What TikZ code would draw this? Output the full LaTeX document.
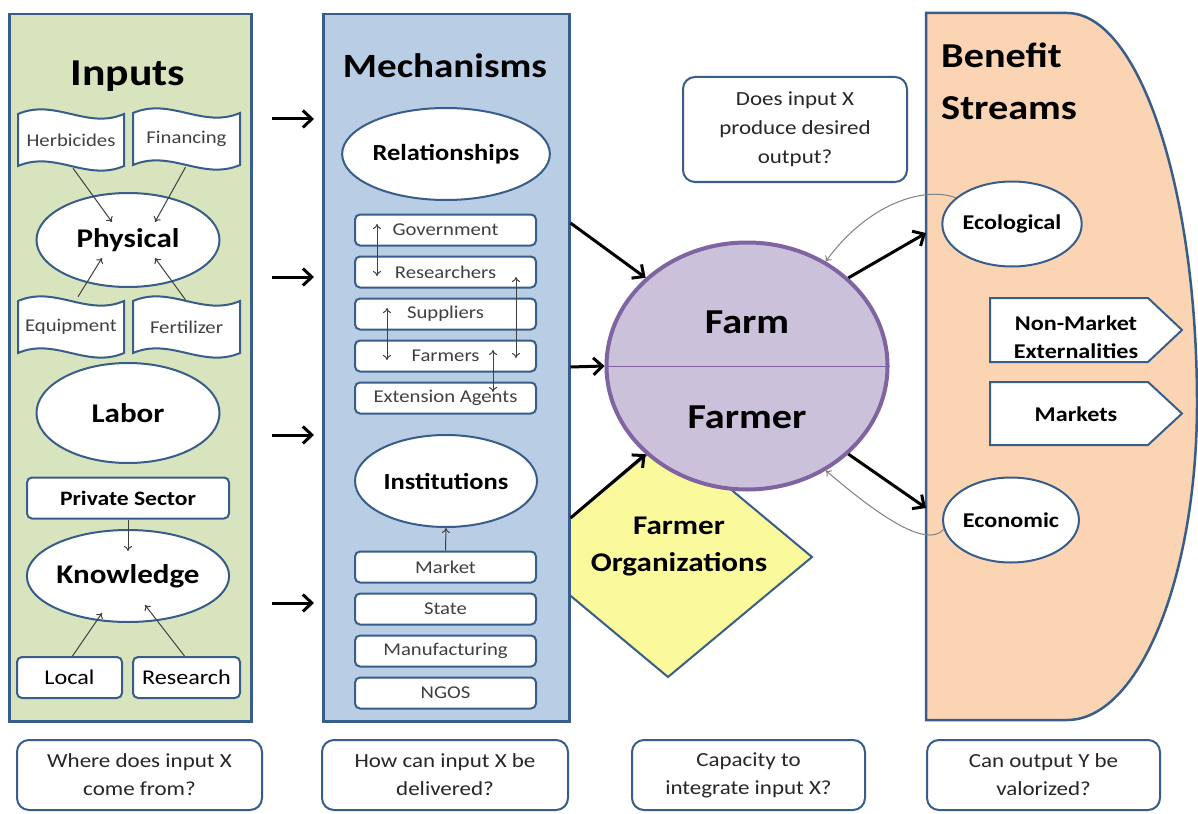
\documentclass[tikz,border=0pt]{standalone}
\usepackage{fontspec}
\setmainfont{Carlito}[FakeStretch=1.15]
\usetikzlibrary{shapes.geometric,arrows.meta,calc}
\definecolor{bord}{HTML}{385D8A}
\definecolor{grn}{HTML}{D7E4BD}
\definecolor{blu}{HTML}{B9CDE5}
\definecolor{peach}{HTML}{FBD4B4}
\definecolor{yel}{HTML}{FAFA9C}
\definecolor{lav}{HTML}{CCC1DA}
\definecolor{purp}{HTML}{8064A2}
\definecolor{arrgray}{HTML}{404040}
\definecolor{smallgray}{HTML}{404040}
\definecolor{qtext}{HTML}{262626}
\newcommand\myfs[2]{\fontsize{#1}{#2}\selectfont}
\newcommand\wavebox[6]{%
  \draw[draw=bord,line width=2pt,fill=white] (#2,#4) .. controls ({#2+0.35*(#3-#2)},{#4-16}) and ({#2+0.65*(#3-#2)},{#4+16}) .. (#3,#4) -- (#3,#5) .. controls ({#2+0.65*(#3-#2)},{#5+16}) and ({#2+0.35*(#3-#2)},{#5-16}) .. (#2,#5) -- cycle;
  \node[wtext,minimum width={#3-#2},minimum height={#5-#4}] (#1) at ({(#2+#3)/2},{(#4+#5)/2}) {#6};}
\begin{document}
\begin{tikzpicture}[x=1pt,y=-1pt,
  panel/.style={draw=bord,line width=2.5pt,inner sep=0pt,anchor=north west},
  ell/.style={ellipse,draw=bord,line width=2pt,fill=white,inner sep=0pt},
  rbox/.style={rectangle,rounded corners=5pt,draw=bord,line width=2pt,fill=white,inner sep=0pt},
  rowbox/.style={rbox,minimum width=181pt,minimum height=31pt,font=\myfs{18}{20},text=smallgray},
  qbox/.style={rectangle,rounded corners=12pt,draw=bord,line width=2pt,fill=white,align=center,inner sep=0pt,text=qtext},
  ttl/.style={font=\myfs{35}{40}\bfseries,inner sep=0pt,anchor=base},
  wtext/.style={inner sep=0pt,font=\myfs{18}{20},text=smallgray},
  bigell/.style={ell,minimum width=183pt,font=\myfs{27}{30}\bfseries},
  midell/.style={ell,minimum width=182pt,minimum height=92pt,font=\myfs{23}{26}\bfseries},
  bentxt/.style={font=\myfs{21}{28}\bfseries,align=center,inner sep=0pt},
  thinarr/.style={-{To[length=5pt,width=8pt]},line width=1pt,draw=arrgray},
  dblarr/.style={{To[length=5pt,width=8pt]}-{To[length=5pt,width=8pt]},line width=1pt,draw=arrgray},
  bigarr/.style={-{Straight Barb[length=9pt,width=17pt]},line width=3pt,draw=black},
]
\useasboundingbox (0,0) rectangle (1198,813);
\fill[white] (0,0) rectangle (1198,813);

% Farmer organizations diamond (behind)
\draw[draw=bord,line width=2pt,fill=yel] (524,557) -- (668,437) -- (812,557) -- (668,677) -- cycle;
\node[font=\myfs{27}{37}\bfseries,align=center,inner sep=0pt] (fo) at (679,547) {Farmer\\Organizations};

% ---------------- Inputs panel
\node[panel,fill=grn,minimum width=242pt,minimum height=707pt] (inp) at (8,13) {};
\node[ttl,font=\myfs{38}{40}\bfseries] (tinp) at (128,86) {Inputs};
\wavebox{herb}{18}{124}{114}{166}{Herbicides}
\wavebox{fin}{133}{240}{113}{165}{Financing}
\wavebox{equ}{18}{124}{301}{353}{Equipment}
\wavebox{fer}{133}{240}{301}{353}{Fertilizer}
\node[bigell,minimum height=94pt] (phys) at (128,240) {Physical};
\draw[thinarr] ($(herb.south)+(2,2)$) -- ($(phys.center)+(-16,-18)$);
\draw[thinarr] ($(fin.south)+(-1,2)$) -- ($(phys.center)+(27,-18)$);
\draw[thinarr] ($(equ.north)+(7,-4)$) -- ($(phys.center)+(-26,18)$);
\draw[thinarr] ($(fer.north)+(-1,-1)$) -- ($(phys.center)+(27,18)$);
\node[bigell,minimum height=100pt] (lab) at (128,413) {Labor};
\node[rbox,minimum width=202pt,minimum height=41pt,font=\myfs{20.5}{22}\bfseries] (priv) at (128,498) {Private Sector};
\node[bigell,minimum height=92pt] (know) at (128,576) {Knowledge};
\draw[thinarr] (priv.south) -- ($(know.center)+(0,-25)$);
\node[rbox,minimum width=105pt,minimum height=41pt,font=\myfs{21}{22}] (loc) at (69.5,677.5) {Local};
\node[rbox,minimum width=107pt,minimum height=41pt,font=\myfs{21}{22}] (rsch) at (186.5,677.5) {Research};
\draw[thinarr] ($(loc.north)+(3,0)$) -- ($(know.center)+(-26,37)$);
\draw[thinarr] ($(rsch.north)+(-2,0)$) -- ($(know.center)+(17,29)$);

% arrows between Inputs and Mechanisms
\coordinate (a1s) at (272,119); \coordinate (a1e) at (314,119);
\coordinate (a2s) at (272,277); \coordinate (a2e) at (314,277);
\coordinate (a3s) at (272,435); \coordinate (a3e) at (314,435);
\coordinate (a4s) at (272,603); \coordinate (a4e) at (314,603);
\draw[bigarr] (a1s) -- (a1e);
\draw[bigarr] (a2s) -- (a2e);
\draw[bigarr] (a3s) -- (a3e);
\draw[bigarr] (a4s) -- (a4e);

% ---------------- Mechanisms panel
\node[panel,fill=blu,minimum width=246pt,minimum height=707pt] (mech) at (322,13) {};
\node[ttl,font=\myfs{34}{40}\bfseries] (tmech) at (445,78) {Mechanisms};
\node[midell] (rel) at (446,154) {Relationships};
\node[rowbox] (gov) at (445.5,230) {Government};
\node[rowbox] (resr) at (445.5,272) {Researchers};
\node[rowbox] (sup) at (445.5,314) {Suppliers};
\node[rowbox] (farmers) at (445.5,356) {Farmers};
\node[rowbox] (ext) at (445.5,398) {Extension Agents};
\draw[dblarr] ($(gov.center)+(-68.5,-6)$) -- ($(resr.center)+(-68.5,4)$);
\draw[dblarr] ($(sup.center)+(-58.5,-6)$) -- ($(farmers.center)+(-58.5,4)$);
\draw[dblarr] ($(resr.center)+(70.5,5)$) -- ($(farmers.center)+(70.5,2)$);
\draw[dblarr] ($(farmers.center)+(47.5,-6)$) -- ($(ext.center)+(47.5,-6)$);
\node[midell] (inst) at (446,481) {Institutions};
\node[rowbox] (mkt) at (445.5,567) {Market};
\node[rowbox] (sta) at (445.5,609) {State};
\node[rowbox] (man) at (445.5,651) {Manufacturing};
\node[rowbox] (ngo) at (445.5,693) {NGOS};
\draw[thinarr] (mkt.north) -- (inst.south);

% ---------------- Farm / Farmer
\node[ellipse,draw=purp,line width=4pt,fill=lav,minimum width=281pt,minimum height=247pt,inner sep=0pt] (farm) at (747,366) {};
\draw[purp,line width=1pt] (farm.west) -- (farm.east);
\node[ttl] (farmt) at (747,333) {Farm};
\node[ttl] (farmert) at (747,428) {Farmer};
\draw[bigarr] ($(mech.north east)+(0,210)$) -- (farm.139);
\draw[bigarr] ($(mech.north east)+(0,354)$) -- (farm.west);
\draw[bigarr] ($(mech.north east)+(0,505)$) -- (farm.221);

% question box top
\node[qbox,minimum width=224pt,minimum height=105pt,font=\myfs{20}{29}] (q0) at (795,129.5) {Does input X\\produce desired\\output?};

% ---------------- Benefit streams
\draw[draw=bord,line width=2.5pt,fill=peach] (926,13) -- (1067,13) .. controls (1138.8,13) and (1197,187.6) .. (1197,403) .. controls (1197,578) and (1138.8,720) .. (1067,720) -- (926,720) -- cycle;
\node[ttl,anchor=base west] (bt1) at (941,68) {Benefit};
\node[ttl,anchor=base west] (bt2) at (941,120) {Streams};
\node[ell,minimum width=130pt,minimum height=85pt,font=\myfs{21}{24}\bfseries] (eco) at (1012,224) {Ecological};
\node[ell,minimum width=128pt,minimum height=85pt,font=\myfs{21}{24}\bfseries] (econ) at (1011,520) {Economic};
\draw[draw=bord,line width=2pt,fill=white] (990,298) -- (1148,298) -- (1182,330) -- (1148,362) -- (990,362) -- cycle;
\node[bentxt] (nm) at (1076,337) {Non-Market\\Externalities};
\draw[draw=bord,line width=2pt,fill=white] (990,382) -- (1148,382) -- (1182,413.5) -- (1148,445) -- (990,445) -- cycle;
\node[bentxt] (mkts) at (1076,414) {Markets};
\coordinate (benL1) at (926,233);
\coordinate (benL2) at (926,508);
\draw[bigarr] (farm.41) -- (benL1);
\draw[bigarr] (farm.-41) -- (benL2);
\draw[thinarr,draw=gray] (eco.155) .. controls (925,186) and (868,203) .. (farm.53);
\draw[thinarr,draw=gray] (econ.188) .. controls (925,550) and (872,510) .. (farm.-53);

% ---------------- bottom questions
\node[qbox,minimum width=245pt,minimum height=70pt,font=\myfs{20}{28}] (q1) at (139.5,775) {Where does input X\\come from?};
\node[qbox,minimum width=246pt,minimum height=70pt,font=\myfs{20}{28}] (q2) at (445,775) {How can input X be\\delivered?};
\node[qbox,minimum width=233pt,minimum height=70pt,font=\myfs{20}{28}] (q3) at (748.5,775) {Capacity to\\integrate input X?};
\node[qbox,minimum width=233pt,minimum height=70pt,font=\myfs{20}{28}] (q4) at (1043.5,775) {Can output Y be\\valorized?};
\end{tikzpicture}
\end{document}
